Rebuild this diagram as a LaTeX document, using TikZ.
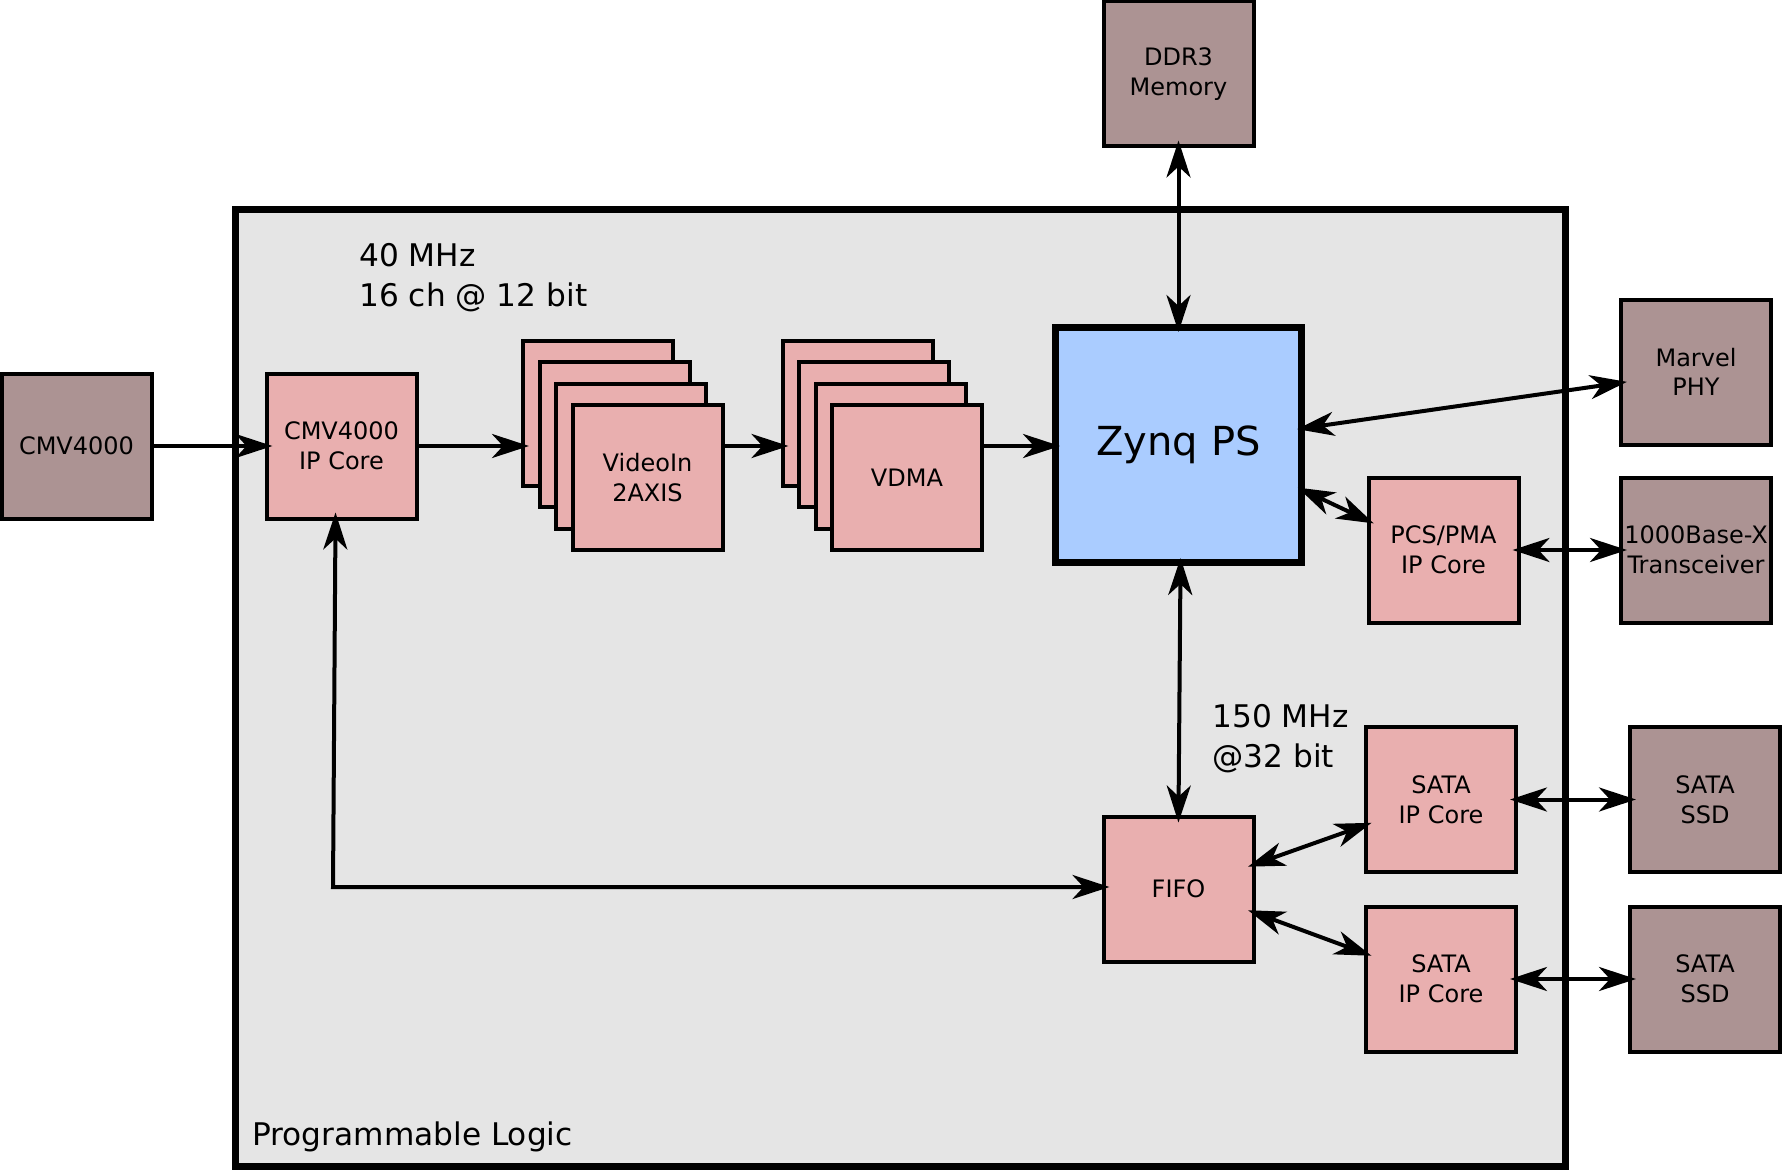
\documentclass[tikz,border=0pt]{standalone}
\usepackage{fontspec}
\setmainfont{DejaVu Sans}
\usetikzlibrary{arrows.meta,calc}
\definecolor{extc}{HTML}{AC9393}
\definecolor{ipc}{HTML}{E9AFAF}
\definecolor{zynqc}{HTML}{AACCFF}
\definecolor{plc}{HTML}{E5E5E5}
\begin{document}
\begin{tikzpicture}[x=0.5pt,y=-0.5pt,
  box/.style={draw=black, line width=2pt, minimum width=75pt, minimum height=72.5pt, inner sep=0pt, align=center, font=\fontsize{12}{14.8}\selectfont},
  ext/.style={box, fill=extc},
  ip/.style={box, fill=ipc},
  link/.style={line width=2pt, {Stealth[length=18.5pt,width=12pt,inset=5.5pt]}-{Stealth[length=18.5pt,width=12pt,inset=5.5pt]}, shorten >=-4pt, shorten <=-4pt},
  flow/.style={line width=2pt, -{Stealth[length=18.5pt,width=12pt,inset=5.5pt]}, shorten >=-4pt},
  lbl/.style={anchor=west, inner sep=0pt, align=left, font=\fontsize{15.6}{20}\selectfont}
]
\useasboundingbox (0,0) rectangle (1783,1172);
% programmable logic container
\node[draw=black, fill=plc, line width=3.5pt, minimum width=665pt, minimum height=478.5pt, inner sep=0pt] (pl) at (900.5,688) {};
\node[lbl] (pltext) at (252,1136.5) {Programmable Logic};
\node[lbl] (lbl40) at (359,277.5) {40 MHz\\16 ch @ 12 bit};
\node[lbl] (lbl150) at (1212,739) {150 MHz\\@32 bit};

% external
\node[ext] (cmvext) at (76.5,446) {CMV4000};
\node[ext] (ddr3) at (1178.5,74) {DDR3\\Memory};
\node[ext] (marvel) at (1696,372) {Marvel\\PHY};
\node[ext] (base) at (1696,550) {1000Base-X\\Transceiver};
\node[ext] (ssd1) at (1705,799.5) {SATA\\SSD};
\node[ext] (ssd2) at (1705,979) {SATA\\SSD};

% ip cores
\node[ip] (cmvip) at (341.5,446) {CMV4000\\IP Core};
\node[ip] (vin1) at (598,413) {};
\node[ip] (vin2) at (614.5,434.6) {};
\node[ip] (vin3) at (631,456.2) {};
\node[ip] (vin4) at (647.5,477.8) {VideoIn\\2AXIS};
\node[ip] (vdma1) at (857.5,413) {};
\node[ip] (vdma2) at (874,434.6) {};
\node[ip] (vdma3) at (890.5,456.2) {};
\node[ip] (vdma4) at (907,477.8) {VDMA};
\node[draw=black, fill=zynqc, line width=3.5pt, minimum width=123pt, minimum height=117.5pt, inner sep=0pt, font=\fontsize{20}{24}\selectfont] (zynq) at (1178.5,445) {Zynq PS};
\node[ip] (pcs) at (1443.5,550) {PCS/PMA\\IP Core};
\node[ip] (sata1) at (1441,799.5) {SATA\\IP Core};
\node[ip] (sata2) at (1441,979) {SATA\\IP Core};
\node[ip] (fifo) at (1178.5,889) {FIFO};

% connectors
\draw[flow] (cmvext.east) -- (cmvip.west);
\draw[flow] (cmvip.east) -- (cmvip.east -| vin1.west);
\draw[flow] (vin4.east |- cmvip.east) -- (vdma1.west |- cmvip.east);
\draw[flow] (vdma4.east |- cmvip.east) -- (zynq.west |- cmvip.east);
\draw[link] (ddr3.south) -- (zynq.north);
\draw[link] ($(zynq.east)+(0,-17)$) -- ($(marvel.west)+(0,11)$);
\draw[link] ($(zynq.east)+(0,46)$) -- ($(pcs.west)+(0,-30)$);
\draw[link] (pcs.east) -- (base.west);
\draw[link] ($(zynq.south)+(2,0)$) -- (fifo.north);
\coordinate (bend) at (333,887);
\draw[link] ($(cmvip.south)+(-6,0)$) -- (bend) -- ($(fifo.west)+(0,-2)$);
\draw[link] ($(fifo.east)+(0,-25)$) -- ($(sata1.west)+(0,26)$);
\draw[link] ($(fifo.east)+(0,24)$) -- ($(sata2.west)+(0,-26)$);
\draw[link] (sata1.east) -- (ssd1.west);
\draw[link] (sata2.east) -- (ssd2.west);
\end{tikzpicture}
\end{document}
